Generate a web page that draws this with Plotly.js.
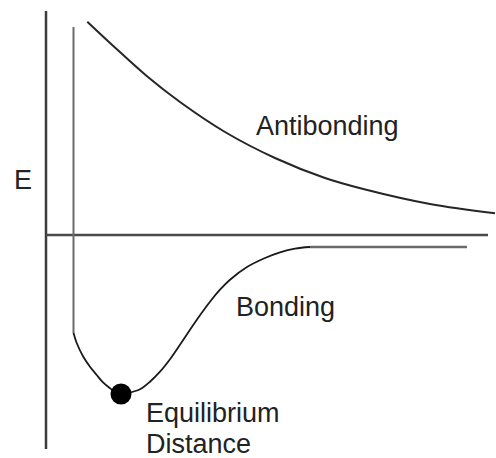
<!DOCTYPE html>
<html>
<head>
<meta charset="utf-8">
<script src="https://cdn.plot.ly/plotly-3.0.1.min.js"></script>
<style>html,body{margin:0;padding:0;background:#fff;}#chart{width:496px;height:458px;}</style>
</head>
<body>
<div id="chart"></div>
<script>
// Distance (r) and energy (E), origin at the axes crossing
const antiR = [4.13,6.73,10.07,13.4,17.9,22.9,27.9,31.73,38.4,44.9];
const antiE = [21.33,18.9,15.9,13.3,10.3,7.7,5.7,4.6,3.1,2.17];

const wallR = [2.75,2.75];
const wallE = [20.8,-9.8];

const wellR = [2.75,3.07,3.73,4.4,5.07,5.73,6.4,7.0,7.5,8.2,9.4,10.4,11.4,12.4,13.4,14.4,15.4,16.4,17.4,18.4,20.1,21.9,23.4,24.9,26.4];
const wellE = [-9.8,-10.8,-12.17,-13.17,-14.0,-14.77,-15.33,-15.75,-15.9,-15.8,-15.43,-14.67,-13.67,-12.42,-10.97,-9.47,-8.02,-6.67,-5.47,-4.47,-3.2,-2.3,-1.73,-1.36,-1.2];

const tailR = [26.4,42.1];
const tailE = [-1.2,-1.2];

const eqR = [7.5];
const eqE = [-15.9];

const axisVR = [0,0];
const axisVE = [22.4,-21.4];
const axisHR = [0,44.2];
const axisHE = [0,0];

const labels = ["E","Antibonding","Bonding","Equilibrium","Distance"];
const labelR = [-3.4,20.8,18.8,9.8,9.8];
const labelE = [5.5,10.9,-7.2,-17.8,-20.9];

const font = {family:"Liberation Sans, Arial, sans-serif", size:27, color:"#222"};

const traces = [
  {x:axisVR, y:axisVE, mode:"lines", line:{color:"#3c3c3c", width:2.5}, hoverinfo:"skip"},
  {x:axisHR, y:axisHE, mode:"lines", line:{color:"#4a4a4a", width:2.5}, hoverinfo:"skip"},
  {x:antiR, y:antiE, mode:"lines", line:{color:"#262626", width:2, shape:"spline", smoothing:1}, hoverinfo:"skip"},
  {x:wallR, y:wallE, mode:"lines", line:{color:"#6a6a6a", width:2}, hoverinfo:"skip"},
  {x:wellR, y:wellE, mode:"lines", line:{color:"#1a1a1a", width:1.8, shape:"spline", smoothing:1}, hoverinfo:"skip"},
  {x:tailR, y:tailE, mode:"lines", line:{color:"#6a6a6a", width:2.5}, hoverinfo:"skip"},
  {x:eqR, y:eqE, mode:"markers", marker:{color:"#000", size:21}, hoverinfo:"skip"}
];

const annotations = labels.map((t,i)=>({
  x:labelR[i], y:labelE[i], xref:"x", yref:"y", text:t, showarrow:false,
  xanchor:"left", yanchor:"middle", font:font
}));

const layout = {
  width:496, height:458,
  margin:{l:0,r:0,t:0,b:0},
  paper_bgcolor:"#fff", plot_bgcolor:"#fff",
  showlegend:false,
  xaxis:{range:[-4.6,45.0], visible:false, showgrid:false, zeroline:false},
  yaxis:{range:[-22.3,23.5], visible:false, showgrid:false, zeroline:false},
  annotations:annotations
};

Plotly.newPlot("chart", traces, layout, {displayModeBar:false, staticPlot:true});
</script>
</body>
</html>
